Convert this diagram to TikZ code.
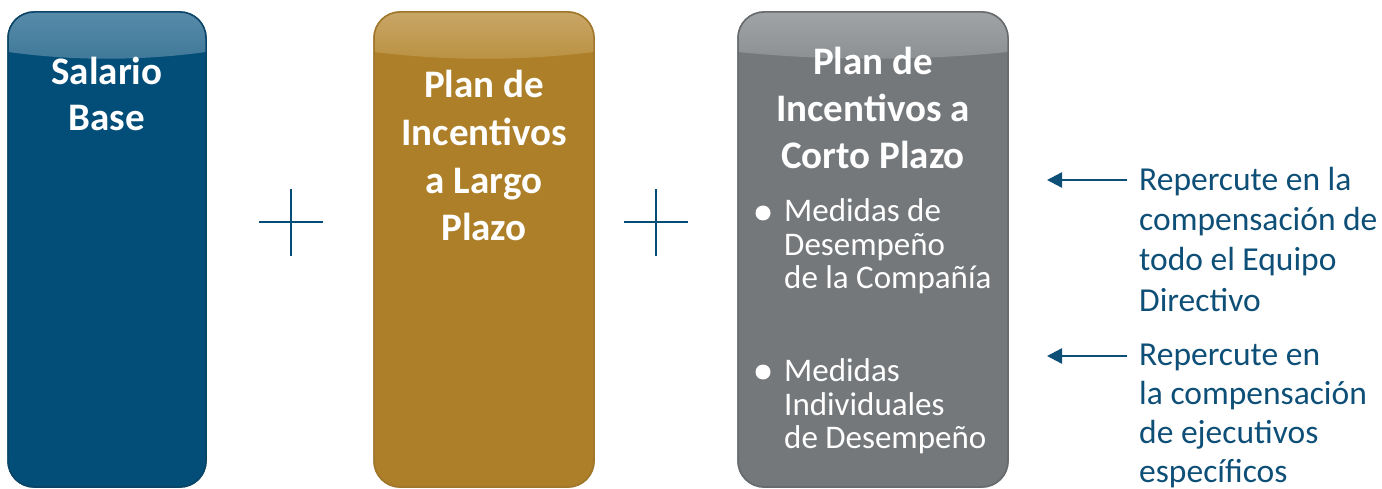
\documentclass[tikz,border=0pt]{standalone}
\usepackage{fontspec}
\setmainfont{Carlito}
\usetikzlibrary{arrows.meta}
\definecolor{bblue}{HTML}{034E78}
\definecolor{bblueD}{HTML}{0A4466}
\definecolor{bblueT}{HTML}{5E8FAD}
\definecolor{bblueB}{HTML}{3F7899}
\definecolor{bgold}{HTML}{AD7F28}
\definecolor{bgoldD}{HTML}{A0762A}
\definecolor{bgoldT}{HTML}{CBAB6E}
\definecolor{bgoldB}{HTML}{BA9142}
\definecolor{bgray}{HTML}{75787B}
\definecolor{bgrayD}{HTML}{686B6E}
\definecolor{bgrayT}{HTML}{A6A8AA}
\definecolor{bgrayB}{HTML}{8C8F92}
\definecolor{rtext}{HTML}{0E4F77}
\tikzset{
  title/.style={anchor=base,inner sep=0pt,text=white,font=\fontsize{39}{47}\selectfont\bfseries},
  bul/.style={anchor=base west,inner sep=0pt,text=white,font=\fontsize{33}{34}\selectfont},
  rtx/.style={anchor=base west,inner sep=0pt,text=rtext,font=\fontsize{33.5}{40}\selectfont},
  plusline/.style={draw=bblue,line width=2.2pt},
  arr/.style={draw=rtext,line width=2.4pt,-{Triangle[length=15pt,width=15pt]}},
  dot/.style={circle,fill=white,inner sep=0pt,minimum size=15pt}
}
\newcommand\mybox[6]{%
  \path[fill=#5,draw=#6,line width=1.5pt,rounded corners=26pt] (#1,12) rectangle (#2,487);
  \begin{scope}
    \clip[rounded corners=26pt] (#1,12) rectangle (#2,487);
    \shade[top color=#3,bottom color=#4]
      (#1,0) -- (#2,0) -- (#2,52)
      .. controls ({#2-(#2-#1)/3},61) and ({#1+(#2-#1)/3},61) .. (#1,52) -- cycle;
  \end{scope}
  \path[draw=#6,line width=1.5pt,rounded corners=26pt] (#1,12) rectangle (#2,487);
}
\begin{document}
\begin{tikzpicture}[x=1pt,y=-1pt]
\useasboundingbox (0,0) rectangle (1382,489);
% boxes
\mybox{8}{206}{bblueT}{bblueB}{bblue}{bblueD}
\mybox{374}{594}{bgoldT}{bgoldB}{bgold}{bgoldD}
\mybox{738}{1008}{bgrayT}{bgrayB}{bgray}{bgrayD}
% box 1 text
\node[title] (s1) at (107,85) {Salario};
\node[title] (s2) at (107,131) {Base};
% box 2 text
\node[title] (l1) at (484,98) {Plan de};
\node[title] (l2) at (484,146) {Incentivos};
\node[title] (l3) at (484,194) {a Largo};
\node[title] (l4) at (484,241) {Plazo};
% box 3 text
\node[title] (c1) at (873,75) {Plan de};
\node[title] (c2) at (873,122) {Incentivos a};
\node[title] (c3) at (873,169) {Corto Plazo};
\node[dot] (d1) at (763,213) {};
\node[bul] (m1) at (784,222) {Medidas de};
\node[bul] (m2) at (784,255) {Desempeño};
\node[bul] (m3) at (784,288) {de la Compañía};
\node[dot] (d2) at (763,372) {};
\node[bul] (n1) at (784,381) {Medidas};
\node[bul] (n2) at (784,415) {Individuales};
\node[bul] (n3) at (784,448) {de Desempeño};
% plus signs
\coordinate (p1l) at (259,222); \coordinate (p1r) at (323,222);
\coordinate (p1t) at (291,189); \coordinate (p1b) at (291,256);
\draw[plusline] (p1l) -- (p1r); \draw[plusline] (p1t) -- (p1b);
\coordinate (p2l) at (624,222); \coordinate (p2r) at (688,222);
\coordinate (p2t) at (656,189); \coordinate (p2b) at (656,256);
\draw[plusline] (p2l) -- (p2r); \draw[plusline] (p2t) -- (p2b);
% right text
\node[rtx] (r1) at (1139,191) {Repercute en la};
\node[rtx] (r2) at (1139,231) {compensación de};
\node[rtx] (r3) at (1139,271) {todo el Equipo};
\node[rtx] (r4) at (1139,311) {Directivo};
\node[rtx] (q1) at (1139,365) {Repercute en};
\node[rtx] (q2) at (1139,404) {la compensación};
\node[rtx] (q3) at (1139,443) {de ejecutivos};
\node[rtx] (q4) at (1139,482) {específicos};
% arrows
\coordinate (a1s) at (1127,180); \coordinate (a1e) at (1047,180);
\coordinate (a2s) at (1127,356); \coordinate (a2e) at (1047,356);
\draw[arr] (a1s) -- (a1e);
\draw[arr] (a2s) -- (a2e);
\end{tikzpicture}
\end{document}
